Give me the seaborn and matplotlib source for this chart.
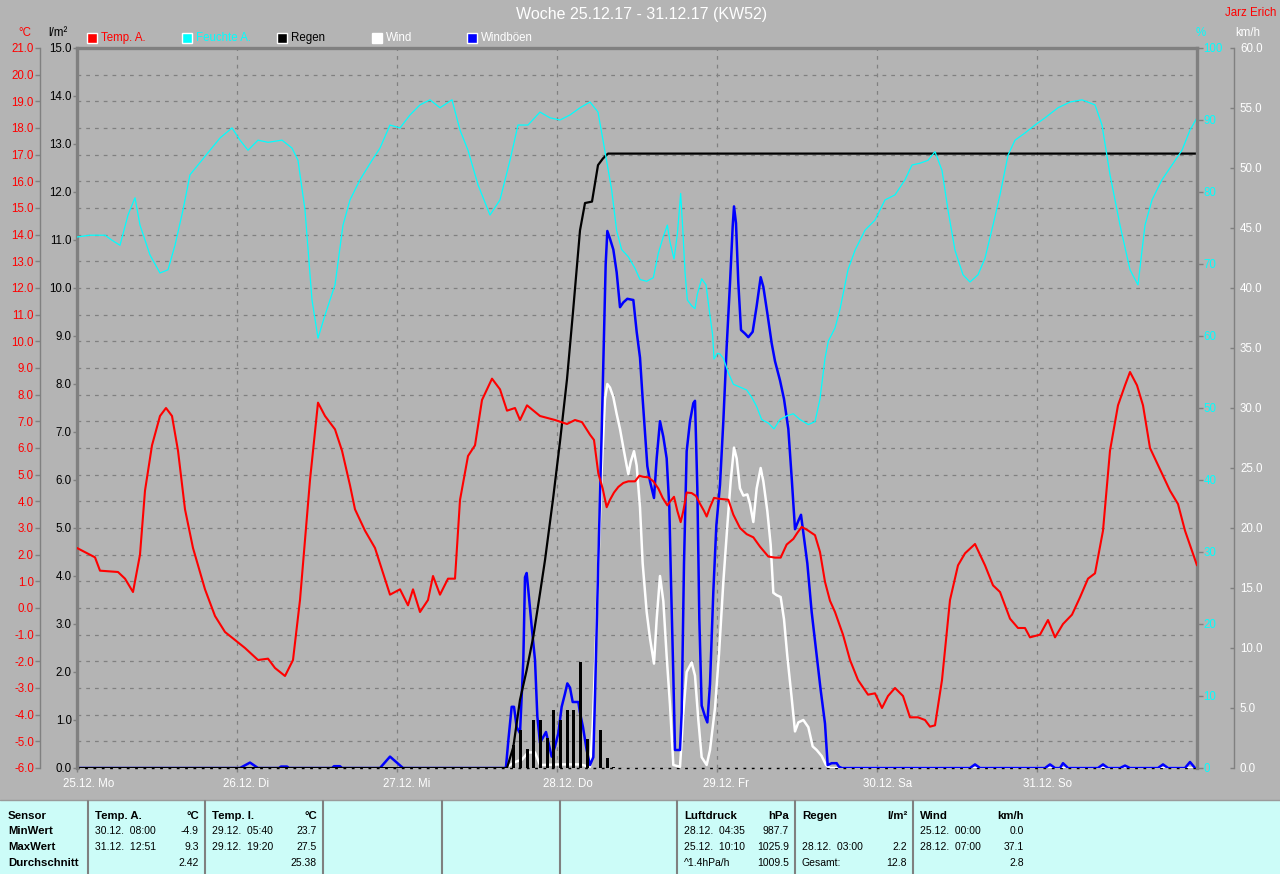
import numpy as np
import pandas as pd
import matplotlib
matplotlib.use("Agg")
import matplotlib.pyplot as plt
import matplotlib.transforms as mtrans
from matplotlib.patches import Rectangle
from matplotlib.lines import Line2D
from matplotlib.ticker import StrMethodFormatter
import seaborn as sns

# ---------------- data (hours since 25.12. 00:00) ----------------
day_hours = [0, 24, 48, 72, 96, 120, 144]
day_labels = ["25.12. Mo", "26.12. Di", "27.12. Mi", "28.12. Do", "29.12. Fr", "30.12. Sa", "31.12. So"]

temp_h = [0, 2.7, 3.45, 6.15, 7.2, 8.4, 9.45, 10.2, 11.25, 12.45, 13.35, 14.25, 15.15, 16.2, 17.4, 19.2,
          20.7, 22.2, 23.7, 25.2, 27.15, 28.65, 29.7, 31.2, 32.4, 33.45, 34.95, 36.15, 37.2, 38.7, 39.75,
          40.95, 41.7, 43.2, 44.7, 46.95, 48.45, 49.65, 50.4, 51.45, 52.65, 53.4, 54.45, 55.65, 56.7, 57.45,
          58.65, 59.7, 60.75, 62.25, 63.45, 64.5, 65.7, 66.45, 67.5, 69.45, 71.7, 73.5, 74.7, 75.75, 76.95,
          77.55, 78.2, 78.85, 79.45, 79.95, 80.55, 81.2, 81.95, 82.7, 83.7, 84.35, 84.95, 85.7, 86.45, 87.2,
          87.85, 88.55, 88.95, 89.55, 90.05, 90.55, 90.95, 91.45, 92.2, 92.85, 93.45, 94.05, 94.45, 94.95,
          95.55, 96.2, 97.7, 98.45, 99.45, 100.45, 101.45, 102.45, 103.7, 104.7, 105.55, 106.45, 107.45,
          108.05, 108.7, 109.45, 110.7, 111.45, 112.2, 112.95, 113.7, 114.9, 115.95, 117.15, 118.65, 119.7,
          120.75, 121.65, 122.7, 123.9, 124.95, 126.15, 127.2, 127.95, 128.7, 129.75, 130.95, 132.15, 133.2,
          134.7, 136.2, 137.4, 138.45, 139.95, 141.15, 142.2, 142.95, 144.45, 145.65, 146.7, 147.9, 149.25,
          150.45, 151.65, 152.7, 153.9, 154.95, 156.15, 157.2, 157.95, 159.0, 159.9, 160.95, 162.45, 163.95,
          165.15, 166.2, 168]
temp_v = [2.25, 1.9, 1.4, 1.35, 1.1, 0.6, 2.0, 4.4, 6.1, 7.2, 7.5, 7.2, 5.9, 3.7, 2.25, 0.7,
          -0.3, -0.9, -1.2, -1.5, -1.95, -1.9, -2.25, -2.55, -1.95, 0.3, 4.8, 7.7, 7.2, 6.7, 5.9,
          4.6, 3.7, 2.9, 2.25, 0.5, 0.7, 0.1, 0.7, -0.15, 0.3, 1.2, 0.5, 1.1, 1.1, 4.05,
          5.7, 6.1, 7.8, 8.6, 8.2, 7.4, 7.5, 7.05, 7.6, 7.2, 7.05, 6.9, 7.05, 6.97, 6.5,
          6.3, 5.04, 4.48, 3.78, 4.06, 4.33, 4.54, 4.69, 4.75, 4.75, 4.96, 4.92, 4.9, 4.75, 4.48,
          4.13, 3.85, 3.99, 4.17, 3.64, 3.22, 3.64, 4.33, 4.31, 4.2, 3.91, 3.64, 3.43, 3.78,
          4.13, 4.1, 4.06, 3.5, 3.0, 2.77, 2.65, 2.3, 1.93, 1.89, 1.89, 2.38, 2.59,
          2.82, 3.04, 2.94, 2.73, 2.1, 0.98, 0.27, -0.15, -1.0, -1.95, -2.7, -3.25, -3.2,
          -3.75, -3.3, -3.0, -3.3, -4.1, -4.1, -4.2, -4.45, -4.4, -2.7, 0.3, 1.6, 2.05,
          2.4, 1.6, 0.85, 0.6, -0.4, -0.75, -0.75, -1.1, -1.0, -0.45, -1.1, -0.6, -0.25,
          0.4, 1.1, 1.3, 2.9, 5.9, 7.6, 8.35, 8.85, 8.35, 7.6, 6.0, 5.2, 4.4,
          3.9, 2.9, 1.6]

hum_h = [0, 1.95, 4.2, 5.25, 6.45, 7.65, 8.7, 9.45, 10.95, 12.45, 13.65, 14.7, 15.9, 16.95, 18.15, 19.95,
         21.45, 23.25, 24.45, 25.65, 27.15, 28.65, 30.75, 32.25, 33.15, 34.2, 35.25, 36.15, 37.2, 38.7,
         39.9, 40.95, 42.45, 44.25, 45.45, 46.95, 48.45, 49.95, 51.45, 52.95, 54.45, 56.25, 57.45, 58.65,
         60.15, 61.95, 63.45, 64.95, 66.15, 67.65, 69.45, 70.95, 72.45, 73.95, 75.45, 76.95, 78.15, 78.9,
         80.2, 80.95, 81.7, 82.7, 83.7, 84.45, 85.45, 86.45, 87.2, 87.95, 88.55, 88.95, 89.55, 90.05,
         90.55, 90.85, 91.2, 91.55, 92.2, 92.7, 93.05, 93.7, 94.35, 94.85, 95.35, 95.55, 96.05, 96.45,
         96.95, 97.7, 98.45, 99.45, 100.45, 101.2, 101.95, 102.7, 103.7, 104.55, 105.45, 106.45, 107.45,
         108.45, 109.7, 110.7, 111.45, 112.2, 112.7, 113.7, 114.45, 115.65, 116.7, 118.2, 119.7, 121.2,
         122.7, 124.2, 125.25, 126.45, 127.65, 128.7, 129.75, 130.65, 131.7, 132.9, 133.95, 135.15, 136.2,
         137.4, 138.45, 139.65, 140.7, 142.2, 143.7, 145.2, 147.15, 148.95, 150.75, 152.7, 153.75, 154.95,
         156.45, 157.95, 159.15, 160.2, 161.25, 162.75, 164.25, 165.75, 166.95, 168]
hum_v = [73.75, 74, 74, 73.3, 72.6, 76.8, 79.2, 75.4, 71.25, 68.75, 69.2, 72.6, 77.5, 82.4, 83.75, 85.8,
         87.5, 88.9, 87.2, 85.8, 87.2, 86.9, 87.2, 86.1, 84.4, 77.5, 65, 59.7, 62.9, 67.1,
         75.4, 78.9, 81.7, 84.4, 86.1, 89.3, 88.9, 90.7, 92.1, 92.8, 91.7, 92.8, 88.6, 85.8,
         81, 76.8, 78.9, 84.4, 89.3, 89.3, 91.1, 90.3, 90, 90.7, 91.7, 92.5, 91.1, 87.2,
         80.3, 74.6, 72, 71, 69.4, 67.85, 67.6, 68.1, 71.5, 73.8, 75.4, 73.05, 70.7, 74.1,
         79.8, 75.1, 68.9, 65, 64.2, 63.8, 65.8, 67.95, 67.1, 63.5, 60.1, 56.8, 57.6, 57.5,
         56.9, 54.9, 53.3, 52.9, 52.5, 51.5, 50.2, 48.4, 47.9, 47.1, 48.4, 48.9, 49.2,
         48.4, 47.7, 48.1, 51.25, 56.9, 59.3, 61.1, 63.7, 69.2, 71.9, 74.7, 76.1, 78.9,
         79.6, 81.7, 83.75, 84, 84.4, 85.6, 83, 77.5, 71.9, 68.5, 67.5, 68.5, 70.8,
         75.4, 79.6, 85.1, 87.2, 88.2, 89.3, 90.3, 91.7, 92.5, 92.8, 92.1, 89.3, 82.4,
         75.4, 69.2, 67.1, 75.4, 78.9, 81.7, 83.75, 85.8, 88.6, 90.3]

rain_sum_h = [0, 64.5, 65.45, 66.45, 67.45, 68.45, 69.45, 70.2, 71.4, 72.45, 73.5, 74.4, 75.45, 76.2,
              77.25, 78.15, 78.9, 79.65, 168]
rain_sum_v = [0, 0, 0.44, 1.42, 2.04, 2.74, 3.64, 4.33, 5.6, 6.8, 8.1, 9.5, 11.2, 11.77,
              11.8, 12.56, 12.7, 12.8, 12.8]

rain_bar_h = [65.5, 66.5, 67.5, 68.5, 69.5, 70.5, 71.5, 72.5, 73.5, 74.5, 75.5, 76.5, 78.5, 79.5, 80.5]
rain_bar_v = [0.48, 0.79, 0.4, 1.0, 1.0, 0.62, 1.2, 1.0, 1.2, 1.2, 2.2, 0.6, 0.79, 0.2, 0.03]

wind_h = [0, 64.2, 65.7, 66.75, 67.65, 68.7, 69.45, 72.45, 75.45, 76.95, 77.35, 77.85, 78.2, 78.7, 79.2,
          79.55, 79.95, 80.45, 80.95, 81.45, 81.95, 82.45, 82.7, 83.05, 83.55, 83.95, 84.45, 84.85, 85.45,
          85.95, 86.55, 86.95, 87.45, 87.95, 88.45, 88.95, 89.45, 90.45, 90.95, 91.45, 92.2, 92.7, 93.2,
          93.7, 94.45, 94.95, 95.7, 96.3, 96.95, 97.55, 98.05, 98.55, 98.95, 99.45, 99.95, 100.55, 100.95,
          101.45, 101.95, 102.55, 102.95, 103.55, 104.05, 104.45, 104.95, 105.55, 106.05, 106.55, 107.2,
          107.7, 108.2, 108.95, 109.7, 110.35, 110.95, 111.7, 112.35, 112.95, 168]
wind_v = [0, 0, 0.5, 0.7, 1.3, 1.3, 0.25, 0.3, 0.3, 0.1, 3.4, 10.8, 17.05, 24.8, 30.75,
          32, 31.7, 30.9, 29.5, 28.25, 26.7, 25.2, 24.5, 25.5, 26.4, 25.2, 21.7, 17.05, 13,
          10.8, 8.7, 12.4, 16, 13.9, 9.3, 5.25, 0.25, 0.1, 4.6, 8.0, 8.8, 7.7, 4.0,
          0.9, 0.25, 1.5, 5.0, 9.5, 15.5, 20.2, 23.9, 26.7, 25.8, 23.3, 22.7, 22.8, 22.0,
          20.5, 23.3, 25, 23.9, 21.4, 18.6, 14.6, 14.4, 14.25, 12.4, 9.3, 5.85,
          3.05, 3.8, 4.0, 3.4, 1.8, 1.5, 1.0, 0.25, 0, 0]

gust_h = [0, 24.45, 25.95, 27.15, 30.3, 30.6, 31.5, 31.8, 38.25, 38.55, 39.45, 39.75, 45.45, 46.95, 48.9,
          64.2, 64.35, 64.7, 65.2, 65.55, 65.95, 66.45, 66.95, 67.2, 67.45, 67.7, 68.2, 68.7, 69.05,
          69.45, 69.95, 70.35, 70.85, 71.2, 71.7, 72.2, 72.7, 73.2, 73.55, 73.95, 74.35, 75.2, 75.45,
          75.9, 76.45, 76.95, 77.45, 77.7, 77.95, 78.2, 78.7, 79.05, 79.3, 79.55, 79.95, 80.45, 80.95,
          81.45, 81.95, 82.55, 83.45, 83.95, 84.45, 84.85, 85.2, 85.55, 85.95, 86.55, 86.95, 87.45,
          87.95, 88.45, 88.85, 89.1, 89.45, 89.7, 90.45, 90.7, 91.05, 91.45, 91.95, 92.45, 92.7, 93.05,
          93.35, 93.7, 94.2, 94.55, 94.95, 95.45, 95.9, 96.45, 96.95, 97.45, 97.95, 98.35, 98.55, 98.85,
          99.2, 99.6, 100.2, 100.7, 101.35, 101.95, 102.55, 102.95, 103.55, 104.2, 104.7, 105.45,
          106.05, 106.7, 107.2, 107.7, 108.2, 108.6, 109.05, 109.55, 110.2, 110.85, 111.55, 112.2,
          112.6, 113.2, 113.95, 114.3, 114.75, 133.95, 134.7, 135.45, 145.2, 145.95, 146.7, 147.45,
          147.9, 148.65, 153.15, 153.9, 154.65, 156.45, 157.2, 157.95, 162.15, 162.9, 163.65, 166.2,
          166.95, 167.7, 168]
gust_v = [0, 0, 0.45, 0, 0, 0.12, 0.12, 0, 0, 0.15, 0.15, 0, 0, 0.95, 0,
          0, 0.1, 2.3, 5.1, 5.1, 3.4, 2.9, 9, 15.9, 16.25, 14.8, 11.8, 9, 4.3,
          2.1, 2.6, 3.0, 1.8, 0.95, 1.8, 2.9, 5.1, 6.2, 7.05, 6.7, 5.5, 5.5, 4.6,
          3.4, 1.5, 0.25, 0.9, 6.0, 11.8, 17.3, 27.95, 36.3, 41.96, 44.75, 44.1, 43.2, 41.3,
          38.4, 38.8, 39.1, 39, 36.35, 34.2, 30.75, 27.95, 25.15, 23.9, 22.5, 25.8, 28.9,
          27.6, 25.8, 21.7, 15.5, 7.7, 1.5, 1.5, 4.6, 17.05, 26.4, 28.9, 30.4, 30.6, 23.3,
          12.4, 5.2, 4.3, 3.8, 7.0, 14.7, 20.2, 23.6, 28.9, 35.1, 40.4, 45.1, 46.8, 45.4,
          40.4, 36.5, 36.2, 35.9, 36.35, 38.5, 40.9, 40.1, 37.9, 35.4, 33.9, 32.3,
          30.75, 28.25, 24.2, 19.9, 20.6, 21.1, 19.2, 17.05, 13, 9.9, 6.5, 3.7,
          0.25, 0.4, 0.4, 0.1, 0, 0, 0.3, 0, 0, 0.3, 0, 0,
          0.4, 0, 0, 0.3, 0, 0, 0.2, 0, 0, 0.3, 0, 0,
          0.5, 0, 0]

table_cols = [
    ("Temp. A.", "°C", [("30.12.  08:00", "-4.9"), ("31.12.  12:51", "9.3"), ("", "2.42")]),
    ("Temp. I.", "°C", [("29.12.  05:40", "23.7"), ("29.12.  19:20", "27.5"), ("", "25.38")]),
    None, None, None,
    ("Luftdruck", "hPa", [("28.12.  04:35", "987.7"), ("25.12.  10:10", "1025.9"), ("^1.4hPa/h", "1009.5")]),
    ("Regen", "l/m²", [("", ""), ("28.12.  03:00", "2.2"), ("Gesamt:", "12.8")]),
    ("Wind", "km/h", [("25.12.  00:00", "0.0"), ("28.12.  07:00", "37.1"), ("", "2.8")]),
]
row_labels = ["Sensor", "MinWert", "MaxWert", "Durchschnitt"]

legend_items = [("Temp. A.", "#ff0000", "#ff0000"), ("Feuchte A.", "#00ffff", "#00ffff"),
                ("Regen", "#000000", "#000000"), ("Wind", "#ffffff", "#ffffff"),
                ("Windböen", "#0000ff", "#ffffff")]

# ---------------- styling ----------------
sns.set_theme(style="white")
plt.rcParams["font.family"] = ["Liberation Sans", "DejaVu Sans"]
plt.rcParams["axes.unicode_minus"] = False
BG = "#b4b4b4"
GREY = "#808080"
W_, H_ = 1280, 874
FS = 8.3

fig = plt.figure(figsize=(12.8, 8.74), dpi=100, facecolor=BG)
rect = [77 / W_, 106 / H_, 1120 / W_, 720 / H_]

def fx(px):
    return px / W_

def fy(py):
    return 1 - py / H_

# base axis: temperature scale + grid
ax0 = fig.add_axes(rect)
ax0.set_facecolor(BG)
ax0.set_xlim(0, 168)
ax0.set_ylim(-6, 21)
ax0.set_yticks(np.arange(-6, 22, 1))
ax0.yaxis.set_major_formatter(StrMethodFormatter("{x:.1f}"))
ax0.tick_params(axis="y", left=True, color=GREY, labelcolor="#ff0000", labelsize=FS,
                length=3.6, width=1, direction="out", pad=0.8)
ax0.spines["left"].set_position(("axes", (40 - 77) / 1120))
ax0.spines["left"].set_color(GREY)
ax0.spines["left"].set_linewidth(1)
ax0.spines["top"].set_color(GREY)
ax0.spines["top"].set_linewidth(2.4)
ax0.spines["right"].set_visible(False)
ax0.spines["bottom"].set_color("#000000")
ax0.spines["bottom"].set_linestyle((0, (1, 5)))
ax0.spines["bottom"].set_linewidth(1)
ax0.set_xticks(day_hours)
ax0.set_xticklabels(day_labels)
ax0.tick_params(axis="x", bottom=True, color=GREY, labelcolor="white", labelsize=FS,
                length=3, width=1, direction="out", pad=4)
offset = mtrans.ScaledTranslation(-14 / 100, 0, fig.dpi_scale_trans)
for lab in ax0.get_xticklabels():
    lab.set_horizontalalignment("left")
    lab.set_transform(lab.get_transform() + offset)
ax0.grid(True, axis="both", color=GREY, linestyle=(0, (3, 4)), linewidth=0.9)
ax0.set_axisbelow(True)

def clean_twin(a):
    for s in a.spines.values():
        s.set_visible(False)
    a.set_xlim(0, 168)
    a.grid(False)
    a.set_xlabel("")
    a.set_ylabel("")

# wind axis (km/h)
ax_w = ax0.twinx()
clean_twin(ax_w)
sns.lineplot(x=wind_h, y=wind_v, ax=ax_w, color="white", linewidth=1.8, estimator=None, sort=False)
sns.lineplot(x=gust_h, y=gust_v, ax=ax_w, color="#0000ff", linewidth=1.8, estimator=None, sort=False)
ax_w.set_ylim(0, 60)
ax_w.set_yticks(np.arange(0, 61, 5))
ax_w.yaxis.set_major_formatter(StrMethodFormatter("{x:.1f}"))
ax_w.spines["right"].set_visible(True)
ax_w.spines["right"].set_position(("axes", (1234 - 77) / 1120))
ax_w.spines["right"].set_color(GREY)
ax_w.spines["right"].set_linewidth(1)
ax_w.tick_params(axis="y", right=True, color=GREY, labelcolor="white", labelsize=FS,
                 length=3, width=1, direction="in", pad=4.3)
ax_w.set_ylabel("")

# rain axis (l/m²)
ax_r = ax0.twinx()
clean_twin(ax_r)
ax_r.bar(rain_bar_h, rain_bar_v, width=0.45, color="#000000", linewidth=0)
sns.lineplot(x=rain_sum_h, y=rain_sum_v, ax=ax_r, color="#000000", linewidth=1.6, estimator=None, sort=False)
ax_r.set_ylim(0, 15)
ax_r.yaxis.tick_left()
ax_r.set_yticks(np.arange(0, 16, 1))
ax_r.yaxis.set_major_formatter(StrMethodFormatter("{x:.1f}"))
ax_r.spines["left"].set_visible(True)
ax_r.spines["left"].set_color(GREY)
ax_r.spines["left"].set_linewidth(2.4)
ax_r.tick_params(axis="y", left=True, right=False, color=GREY, labelcolor="#000000", labelsize=FS,
                 length=3, width=1, direction="out", pad=0.8)
ax_r.set_ylabel("")

# humidity axis (%)
ax_h = ax0.twinx()
clean_twin(ax_h)
sns.lineplot(x=hum_h, y=hum_v, ax=ax_h, color="#00ffff", linewidth=0.9, estimator=None, sort=False)
ax_h.set_ylim(0, 100)
ax_h.set_yticks(np.arange(0, 101, 10))
ax_h.yaxis.set_major_formatter(StrMethodFormatter("{x:.0f}"))
ax_h.spines["right"].set_visible(True)
ax_h.spines["right"].set_color(GREY)
ax_h.spines["right"].set_linewidth(2.4)
ax_h.tick_params(axis="y", right=True, color=GREY, labelcolor="#00ffff", labelsize=FS,
                 length=4, width=1, direction="out", pad=0.5)
ax_h.set_ylabel("")

# temperature line on top
ax_t = ax0.twinx()
clean_twin(ax_t)
sns.lineplot(x=temp_h, y=temp_v, ax=ax_t, color="#ff0000", linewidth=1.5, estimator=None, sort=False)
ax_t.set_ylim(-6, 21)
ax_t.set_yticks([])
ax_t.set_ylabel("")

for a in (ax_w, ax_r, ax_h, ax_t):
    a.set_xlim(0, 168)
    a.tick_params(axis="x", bottom=False, top=False, labelbottom=False)

# ---------------- header texts ----------------
fig.text(fx(642), fy(15), "Woche 25.12.17 - 31.12.17 (KW52)", color="white", fontsize=11.5,
         ha="center", va="center")
fig.text(fx(1276), fy(13), "Jarz Erich", color="#ff0000", fontsize=8.3, ha="right", va="center")
fig.text(fx(25), fy(33), "°C", color="#ff0000", fontsize=FS, ha="center", va="center")
fig.text(fx(58), fy(33), "l/m²", color="#000000", fontsize=FS, ha="center", va="center")
fig.text(fx(1201), fy(33), "%", color="#00ffff", fontsize=FS, ha="center", va="center")
fig.text(fx(1248), fy(33), "km/h", color="white", fontsize=FS, ha="center", va="center")

for i, (name, fc, tc) in enumerate(legend_items):
    x0 = 87 + 95 * i
    fig.add_artist(Rectangle((fx(x0), fy(43)), 10 / W_, 10 / H_, facecolor=fc, edgecolor="white",
                             linewidth=1, transform=fig.transFigure))
    fig.text(fx(x0 + 14), fy(38), name, color=tc, fontsize=FS, ha="left", va="center")

# ---------------- statistics table ----------------
TAB = "#ccfcf8"
fig.add_artist(Rectangle((0, 0), 1, 74 / H_, facecolor=TAB, edgecolor="none", transform=fig.transFigure))
fig.add_artist(Line2D([0, 1], [fy(800), fy(800)], color="#9a9a9a", linewidth=1, transform=fig.transFigure))
seps = [88, 205, 323, 442, 560, 677, 795, 913]
for sx in seps:
    fig.add_artist(Line2D([fx(sx), fx(sx)], [fy(801), 0], color=GREY, linewidth=1.5,
                          transform=fig.transFigure))
rows_y = [816, 831, 847, 863]
for lbl, ry in zip(row_labels, rows_y):
    fig.text(fx(8), fy(ry), lbl, color="#000000", fontsize=8.2, fontweight="bold", ha="left", va="center")
for ci, col in enumerate(table_cols):
    if col is None:
        continue
    left = seps[ci] + 7
    right = (seps[ci + 1] if ci + 1 < len(seps) else 1030) - 6
    head, unit, vals = col
    fig.text(fx(left), fy(rows_y[0]), head, color="#000000", fontsize=8.2, fontweight="bold",
             ha="left", va="center")
    fig.text(fx(right), fy(rows_y[0]), unit, color="#000000", fontsize=8.2, fontweight="bold",
             ha="right", va="center")
    for (d, v), ry in zip(vals, rows_y[1:]):
        if d:
            fig.text(fx(left), fy(ry), d, color="#000000", fontsize=7.5, ha="left", va="center")
        if v:
            fig.text(fx(right), fy(ry), v, color="#000000", fontsize=7.5, ha="right", va="center")

fig.savefig("out.png", dpi=100, facecolor=BG)
